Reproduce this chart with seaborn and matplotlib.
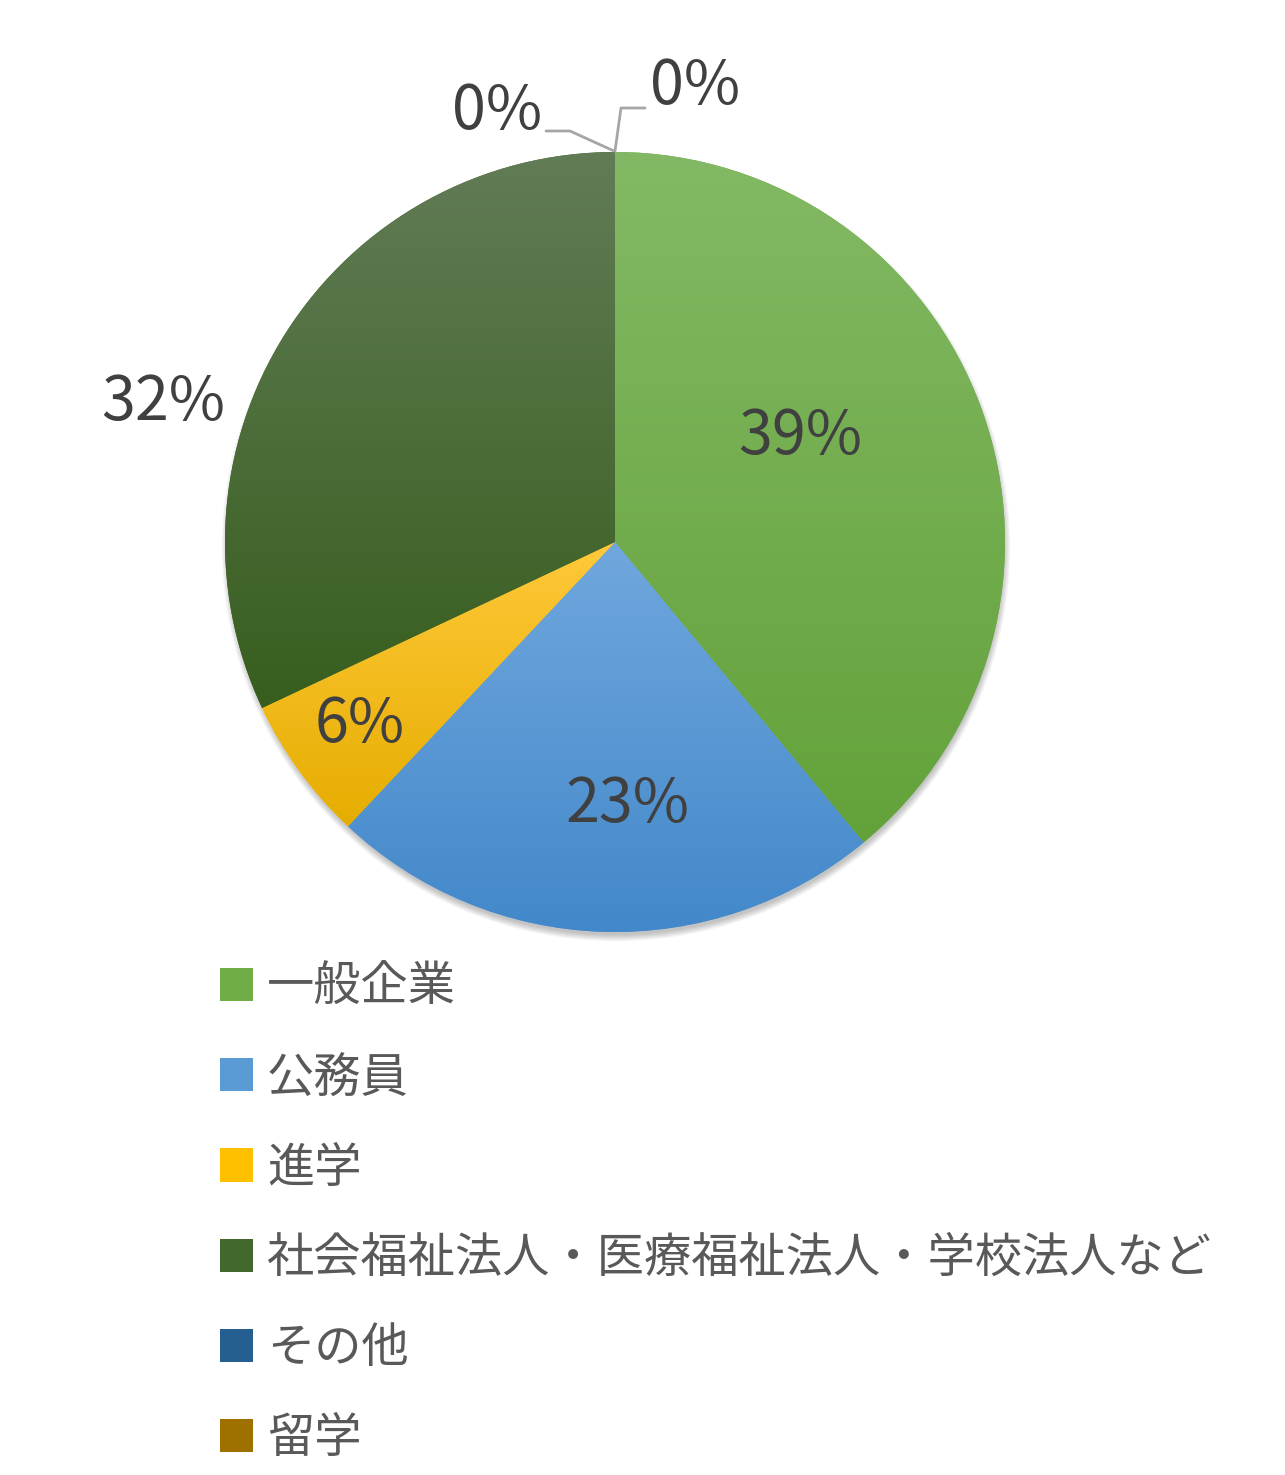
import numpy as np
import matplotlib
matplotlib.use("Agg")
import matplotlib.pyplot as plt
import seaborn as sns
from matplotlib.patches import Patch, Circle
from matplotlib.colors import LinearSegmentedColormap

categories = ["一般企業", "公務員", "進学",
              "社会福祉法人・医療福祉法人・学校法人など", "その他", "留学"]
shares = [39, 23, 6, 32, 0, 0]
pct_labels = ["39%", "23%", "6%", "32%", "0%", "0%"]
# top / bottom colours of each slice's vertical gradient
top_colors = ["#83b964", "#70a7dd", "#ffc93a", "#627c56", "#4a6f9a", "#a8843e"]
bottom_colors = ["#63a23a", "#4288ca", "#e6ad00", "#375e1e", "#1b4f86", "#9a6c00"]
mid_colors = ["#70ad47", "#5b9bd5", "#ffc000", "#43682b", "#255e91", "#9e7000"]

sns.set_theme(style="white")
plt.rcParams['font.family'] = ['Noto Sans CJK JP', 'DejaVu Sans']

W, H = 1285, 1475
fig = plt.figure(figsize=(W / 100, H / 100), dpi=100)
ax = fig.add_axes([0, 0, 1, 1])


def py(y):
    return H - y


cx, cy, r = 615, py(542), 390

# soft shadow, mostly below the pie
for k in range(8):
    ax.add_patch(Circle((cx + 1, cy - 5), r - 2 + k * 0.9, color="black",
                        alpha=0.03, lw=0, zorder=0))

wedges, _ = ax.pie(shares, colors=mid_colors, startangle=90, counterclock=False,
                   center=(cx, cy), radius=r, frame=True,
                   wedgeprops=dict(linewidth=0))

for w, c1, c2 in zip(wedges, top_colors, bottom_colors):
    w.set_zorder(1)
    v = w.get_path().vertices
    x0, x1 = v[:, 0].min(), v[:, 0].max()
    y0, y1 = v[:, 1].min(), v[:, 1].max()
    if x1 - x0 < 1:
        continue
    cmap = LinearSegmentedColormap.from_list("g", [c2, c1])
    grad = np.linspace(0, 1, 256).reshape(-1, 1)
    im = ax.imshow(grad, cmap=cmap, extent=[x0, x1, y0, y1], origin="lower",
                   aspect="auto", zorder=2, interpolation="bilinear")
    im.set_clip_path(w)

ax.set_xlim(0, W)
ax.set_ylim(0, H)
ax.set_aspect("equal")
ax.axis("off")

# data labels
label_pos = [(800, 437), (628, 805), (360, 725), (163, 403), (497, 112), (695, 87)]
for txt, (x, y) in zip(pct_labels, label_pos):
    ax.text(x, py(y), txt, fontsize=44, color="#404040", ha="center",
            va="center", zorder=5)

# leader lines for the zero slices
lc = "#a6a6a6"
ax.plot([546, 570, 614], [py(131), py(131), py(151)], color=lc, lw=2, zorder=4)
ax.plot([615, 621, 645], [py(151), py(108), py(108)], color=lc, lw=2, zorder=4)

handles = [Patch(facecolor=c, edgecolor="none") for c in mid_colors]
leg = ax.legend(handles, categories, loc="upper left",
                bbox_to_anchor=(201 / W, 1 - 945 / H), frameon=False,
                fontsize=34, handlelength=0.7, handleheight=0.7,
                handletextpad=0.3, labelspacing=0.88, borderaxespad=0)
for t in leg.get_texts():
    t.set_color("#595959")

fig.savefig("out.png", dpi=100)
